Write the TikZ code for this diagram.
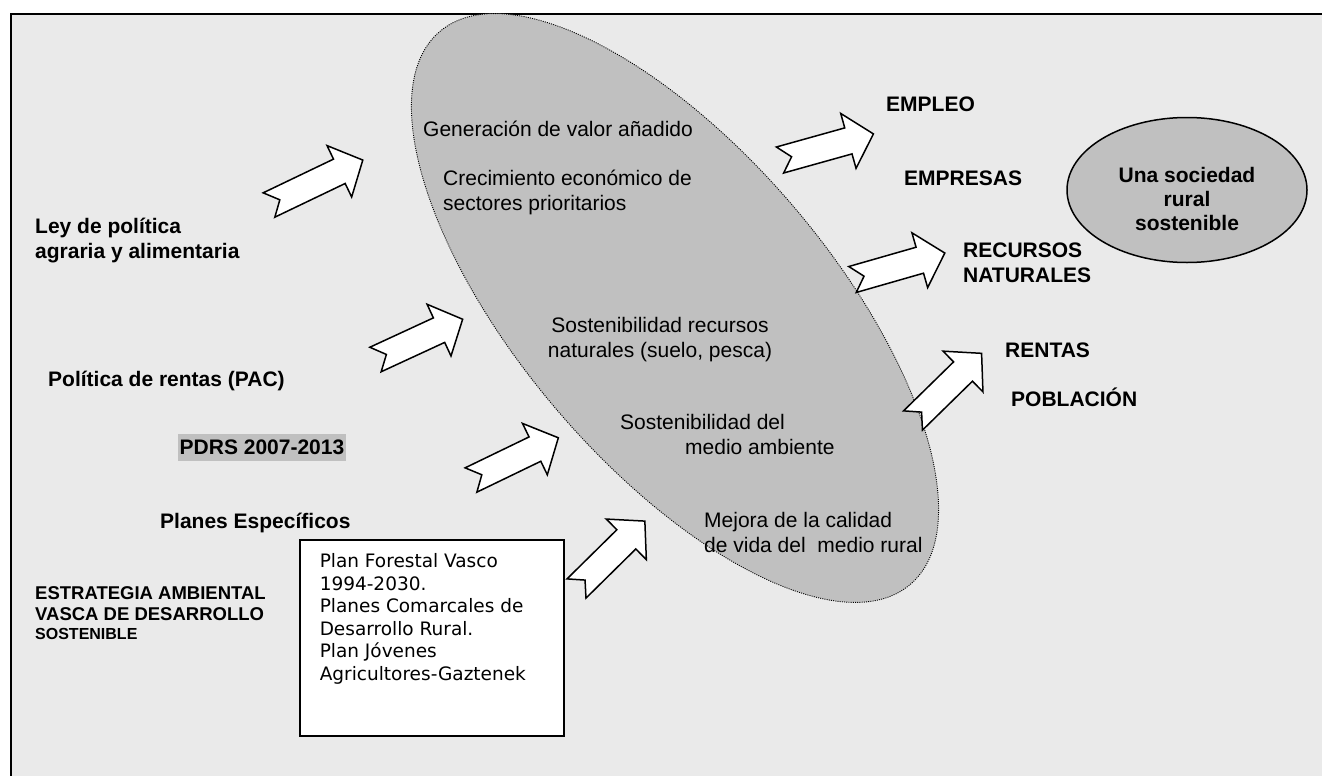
\documentclass[tikz,border=0pt]{standalone}
\usepackage{fontspec}
\setmainfont{Liberation Sans}
\newfontfamily\boxfont{DejaVu Sans}
\usepackage{tikz}
\usetikzlibrary{shapes.geometric}
\definecolor{bg}{HTML}{EAEAEA}
\definecolor{oval}{HTML}{C0C0C0}
\tikzset{
  pics/notch/.style={code={
    \draw[line width=1.5pt, fill=white, line join=miter]
      (0,-13.5) -- (#1-26,-13.5) -- (#1-26,-28.5) -- (#1,0) -- (#1-26,28.5)
      -- (#1-26,13.5) -- (0,13.5) -- (12,0) -- cycle;
  }}
}
\begin{document}
\begin{tikzpicture}[x=1pt, y=-1pt]
\tikzstyle{lbl}=[font=\bfseries\fontsize{21}{24.5}\selectfont, anchor=base west, align=left, inner sep=0pt]
\tikzstyle{txt}=[font=\fontsize{21}{24.5}\selectfont, anchor=base west, align=left, inner sep=0pt]
\useasboundingbox (0,0) rectangle (1322,776);
\fill[bg] (11,14) rectangle (1322,776);
\draw[line width=1.5pt] (11,776) -- (11,14) -- (1322,14);
% central oval and goal
\node[ellipse, draw, line width=0.9pt, dash pattern=on 1pt off 1.2pt, fill=oval,
  minimum width=726pt, minimum height=312pt, rotate=-49.6] (oval) at (675,308) {};
\node[ellipse, draw, line width=1.5pt, fill=oval, minimum width=240pt, minimum height=145pt] (goal) at (1187,190) {};
\node[font=\bfseries\fontsize{21}{24}\selectfont, align=center, inner sep=0pt] (goaltxt) at (1187,199) {Una sociedad\\rural\\sostenible};
% plans box
\node[draw, line width=1.5pt, fill=white, anchor=north west, inner xsep=20pt, inner ysep=14pt,
  font=\boxfont\fontsize{18.5}{22.5}\selectfont] (plans) at (299,539)
  {\parbox[c][168pt][t]{224pt}{\raggedright Plan Forestal Vasco\\1994-2030.\\Planes Comarcales de\\Desarrollo Rural.\\Plan J\'ovenes\\Agricultores-Gaztenek}};
% arrows
\pic[rotate=25.6] (a1) at (269,205) {notch=104};
\pic[rotate=24.8] (a2) at (375.5,359.5) {notch=96};
\pic[rotate=25.8] (a3) at (471,480) {notch=97};
\pic[rotate=44.6] (a4) at (576.5,588.5) {notch=96};
\pic[rotate=15.6] (a5) at (780,160) {notch=97};
\pic[rotate=16] (a6) at (852.5,279.5) {notch=96};
\pic[rotate=44.4] (a7) at (913,420.5) {notch=96};
% left labels
\node[lbl] (law) at (35,258) {Ley de pol\'itica\\agraria y alimentaria};
\node[lbl] (rents) at (48,386) {Pol\'itica de rentas (PAC)};
\node[lbl, fill=oval, inner xsep=1.5pt, inner ysep=1.5pt, text height=19pt, text depth=5pt] (pdrs) at (178,454) {PDRS 2007-2013};
\node[lbl] (specific) at (160,528) {Planes Espec\'ificos};
\node[lbl, font=\bfseries\fontsize{18.5}{21}\selectfont] (strategy) at (35,639)
  {ESTRATEGIA AMBIENTAL\\VASCA DE DESARROLLO\\[-2pt]{\fontsize{16}{18}\selectfont SOSTENIBLE}};
% oval texts
\node[txt] (value) at (423,136) {Generaci\'on de valor a\~nadido};
\node[txt] (growth) at (443,210) {Crecimiento econ\'omico de\\sectores prioritarios};
\node[txt, anchor=base, align=center] (resources) at (660,357) {Sostenibilidad recursos\\naturales (suelo, pesca)};
\node[txt] (environment) at (620,454) {Sostenibilidad del\\\hspace*{65pt}medio ambiente};
\node[txt] (life) at (704,552) {Mejora de la calidad\\de vida del\ \ medio rural};
% outcomes
\node[lbl] (jobs) at (886,111) {EMPLEO};
\node[lbl] (firms) at (904,185) {EMPRESAS};
\node[lbl] (natres) at (963,282) {RECURSOS\\NATURALES};
\node[lbl] (income) at (1005,357) {RENTAS};
\node[lbl] (people) at (1011,406) {POBLACI\'ON};
\end{tikzpicture}
\end{document}
